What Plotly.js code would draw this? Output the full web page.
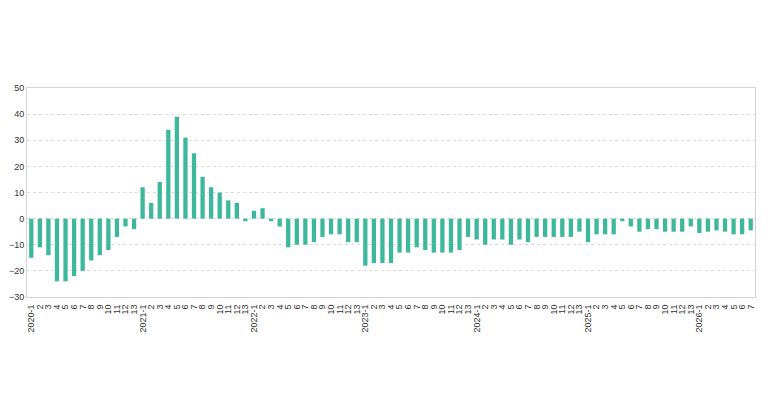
<!DOCTYPE html>
<html>
<head>
<meta charset="utf-8">
<script src="https://cdn.plot.ly/plotly-3.0.1.min.js"></script>
<style>html,body{margin:0;padding:0;background:#fff;}#chart{width:768px;height:412px;}</style>
</head>
<body>
<div id="chart"></div>
<script>
var years = ["2020","2021","2022","2023","2024","2025","2026"];

var values2020 = [-15,-11,-14,-24,-24,-22,-20,-16,-14,-12,-7,-3,-4];
var values2021 = [12,6,14,34,39,31,25,16,12,10,7,6,-1];
var values2022 = [3,4,-1,-3,-11,-10,-10,-9,-7,-6,-6,-9,-9];
var values2023 = [-18,-17,-17,-17,-13,-13,-11,-12,-13,-13,-13,-12,-7];
var values2024 = [-8,-10,-8,-8,-10,-8,-9,-7,-7,-7,-7,-7,-5];
var values2025 = [-9,-6,-6,-6,-1,-3,-5,-4,-4,-5,-5,-5,-3];
var values2026 = [-5.5,-5,-4.5,-5,-6,-6,-4.5];

var allValues = [values2020,values2021,values2022,values2023,values2024,values2025,values2026];

var categories = [];
var tickLabels = [];
var values = [];
for (var i = 0; i < years.length; i++) {
  var vals = allValues[i];
  for (var p = 0; p < vals.length; p++) {
    categories.push(years[i] + "-" + (p + 1));
    tickLabels.push(p === 0 ? years[i] + "-1" : String(p + 1));
    values.push(vals[p]);
  }
}

var trace = {
  type: "bar",
  x: categories,
  y: values,
  marker: {color: "#3db89c"},
  hoverinfo: "x+y"
};

var layout = {
  width: 768,
  height: 412,
  margin: {l: 27, r: 13, t: 88, b: 115},
  paper_bgcolor: "#ffffff",
  plot_bgcolor: "#ffffff",
  showlegend: false,
  bargap: 0.5,
  font: {family: "Liberation Sans, Arial, sans-serif", size: 9, color: "#333333"},
  xaxis: {
    type: "category",
    tickmode: "array",
    tickvals: categories,
    ticktext: tickLabels,
    tickangle: -90,
    tickfont: {size: 9, color: "#333333"},
    ticklabelstandoff: 3,
    showgrid: false,
    showline: true,
    linecolor: "#d4d4d4",
    linewidth: 1,
    mirror: true,
    ticks: "",
    automargin: false
  },
  yaxis: {
    range: [-30, 50],
    dtick: 10,
    tick0: 0,
    tickfont: {size: 9, color: "#333333"},
    showgrid: true,
    gridcolor: "#dcdcdc",
    griddash: "dot",
    gridwidth: 1,
    zeroline: false,
    showline: true,
    linecolor: "#d4d4d4",
    linewidth: 1,
    mirror: true,
    ticks: "",
    automargin: false
  }
};

Plotly.newPlot("chart", [trace], layout, {displayModeBar: false, staticPlot: true});
</script>
</body>
</html>
